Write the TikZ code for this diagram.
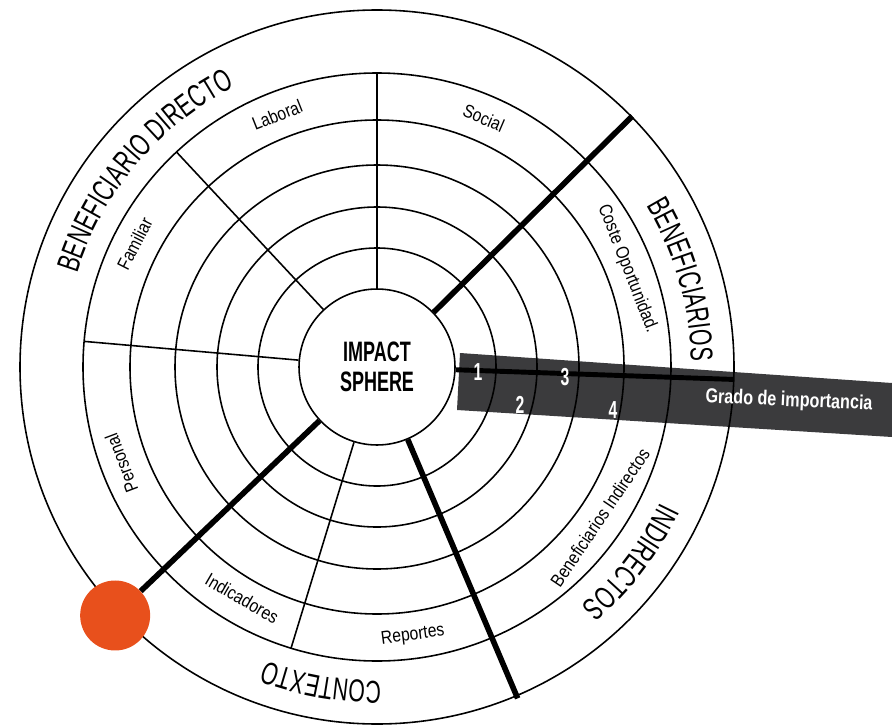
\documentclass[tikz,border=0pt]{standalone}
\usepackage{fontspec}
\usetikzlibrary{positioning,decorations.text}
\newfontfamily\outerfont[FakeStretch=0.67]{Liberation Sans}
\newfontfamily\bandfont[FakeStretch=0.85]{Liberation Sans}
\newfontfamily\sphfont[FakeStretch=0.64]{Liberation Sans}
\newfontfamily\gradefont[FakeStretch=0.8]{Liberation Sans}
\definecolor{bargray}{HTML}{3B3B3D}
\definecolor{dotorange}{HTML}{E8501C}

\begin{document}
\begin{tikzpicture}[
    x=0.02cm, y=0.02cm,
    ring/.style={line width=0.9pt},
    spoke/.style={line width=0.9pt},
    thickspoke/.style={line width=3.2pt},
    sphere/.style={
		circle,
		draw,
		line width=0.9pt,
		fill=white,
		minimum size=3.12cm,
		inner sep=0pt,
		align=center,
		font=\sphfont\bfseries\fontsize{16}{17}\selectfont
	},
	band/.style={
		inner sep=0pt,
		font=\bandfont\fontsize{10.5}{12}\selectfont
	},
	grade/.style={
		text=white,
		inner sep=0pt,
		font=\sphfont\bfseries\fontsize{14}{14}\selectfont
	},
	outer/.style={
		decorate,
		decoration={text along path, text align=center,
		  text={|\outerfont\fontsize{18}{18}\selectfont|#1}}
	}
  ]
  \useasboundingbox (0,0) rectangle (892,725);

  % the grey bar goes below everything
  \fill [bargray] (460,372) -- (892,342) -- (892,288) -- (457,315) -- cycle;

  \node [sphere] (sphere) at (377,358) {IMPACT\\SPHERE};

  \foreach \r in {119,160,202,247,294,357}
    \draw [ring] (sphere.center) circle [radius=\r];

  % thin spokes
  \foreach \a in {90,133,175,253}
    \draw [spoke] (sphere.\a) -- ([shift={(\a:294)}]sphere.center);

  % thick spokes
  \draw [thickspoke] (sphere.44.5) -- ([shift={(44.5:358)}]sphere.center);
  \draw [thickspoke] (sphere.-67) -- ([shift={(-67:360)}]sphere.center);
  \draw [thickspoke, line width=2.8pt] (sphere.-2) -- ([shift={(-2:357)}]sphere.center);

  \node [circle, fill=dotorange, minimum size=1.4cm, inner sep=0pt] (dot)
    at ([shift={(223.5:361)}]sphere.center) {};
  \draw [thickspoke] (sphere.223.5) -- (dot);

  % grades
  \node [grade] (g1) at (478,353) {1};
  \node [grade] (g2) at (520,320) {2};
  \node [grade] (g3) at (565,348) {3};
  \node [grade] (g4) at (613,315) {4};
  \node [grade, rotate=-2.5, font=\gradefont\bfseries\fontsize{11.5}{11.5}\selectfont] (grado)
    at (789,324) {Grado de importancia};

  % labels in the ring
  \node [band, rotate=21.6] (laboral) at ([shift={(111.6:271)}]sphere.center) {Laboral};
  \node [band, rotate=-23.2] (social) at ([shift={(66.8:271)}]sphere.center) {Social};
  \node [band, rotate=-68.6] (coste) at ([shift={(21.4:269)}]sphere.center) {Coste Oportunidad.};
  \node [band, rotate=63] (familiar) at ([shift={(153:272)}]sphere.center) {Familiar};
  \node [band, rotate=110.6] (personal) at ([shift={(200.6:273)}]sphere.center) {Personal};
  \node [band, rotate=-30.2] (indicadores) at ([shift={(239.8:268)}]sphere.center) {Indicadores};
  \node [band, rotate=7.6] (reportes) at ([shift={(-82.4:271)}]sphere.center) {Reportes};
  \node [band, rotate=56] (indirectos) at ([shift={(-34:269)}]sphere.center) {Beneficiarios Indirectos};

  % outer ring
  \path [outer={BENEFICIARIO DIRECTO}] (sphere.center) ++(179.8:314)
    arc [start angle=179.8, end angle=99.8, radius=314];
  \path [outer={BENEFICIARIOS}] (sphere.center) ++(46:314)
    arc [start angle=46, end angle=-14, radius=314];
  \path [outer={INDIRECTOS}] (sphere.center) ++(-7.5:314)
    arc [start angle=-7.5, end angle=-67.5, radius=314];
  \path [outer={CONTEXTO}] (sphere.center) ++(-70:314)
    arc [start angle=-70, end angle=-130, radius=314];

\end{tikzpicture}
\end{document}
